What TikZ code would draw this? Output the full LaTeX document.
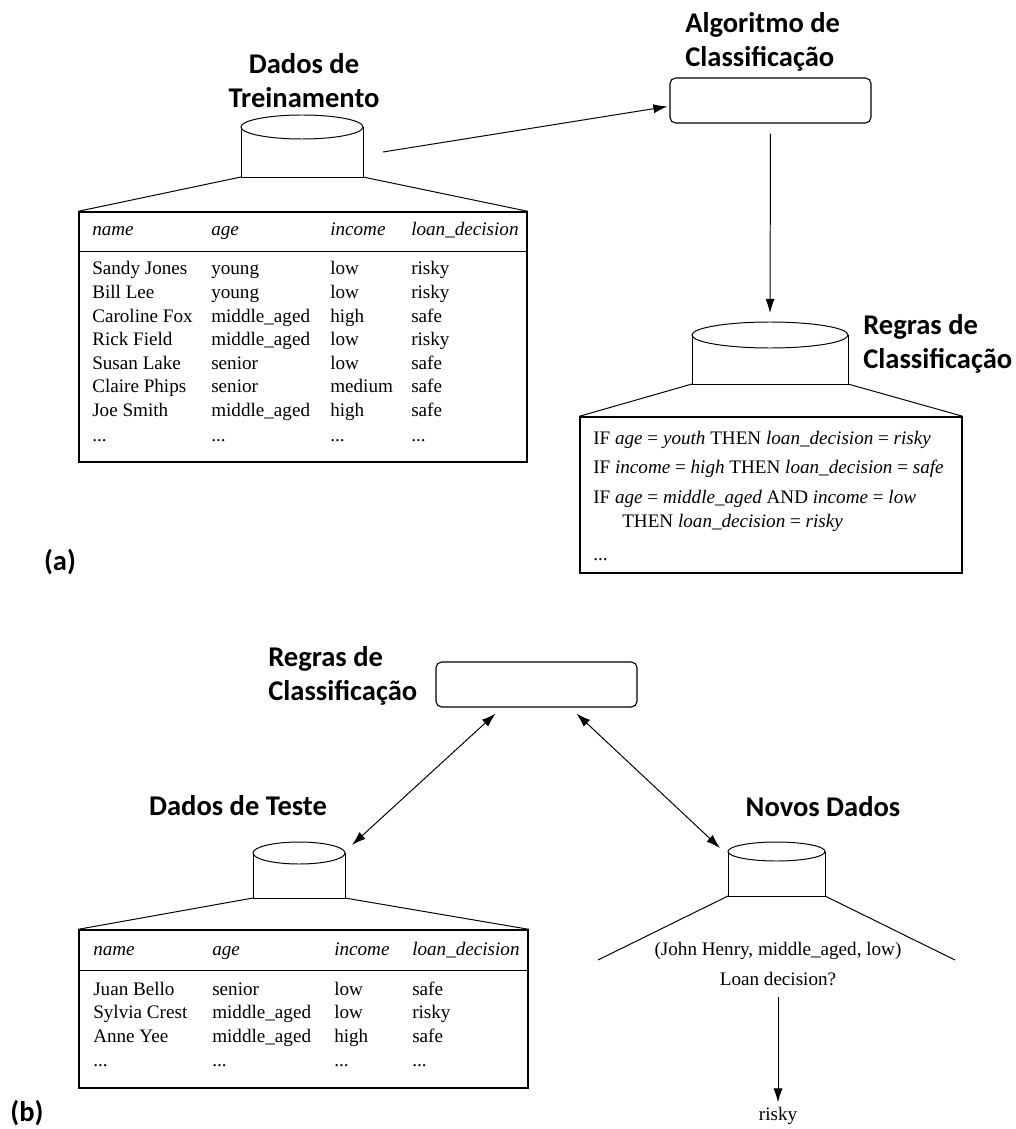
\documentclass[tikz,border=0pt]{standalone}
\usepackage{fontspec}
\setmainfont{Liberation Serif}
\newfontfamily\titulofont{Carlito}
\usetikzlibrary{arrows.meta, positioning, calc}

\newcommand{\pxu}{0.025cm}
% cylinder drawn around an empty node: #1 name, #2 x radius, #3 y radius
\newcommand{\banco}[3]{%
    \draw[linha] ($(#1.north west)+(0,#3)$) -- (#1.south west) -- (#1.south east) -- ($(#1.north east)+(0,#3)$);
    \draw[linha] ($(#1.north)+(0,#3)$) ellipse [x radius=#2, y radius=#3];
}

\begin{document}
\begin{tikzpicture}[
    x=0.025cm, y=-0.025cm,
    linha/.style={line width=0.7pt},
    banco/.style={inner sep=0pt, outer sep=0pt},
    tabela/.style={
        draw,
        line width=1pt,
        inner sep=0pt
    },
    caixa/.style={
        draw,
        rounded corners=4pt,
        line width=0.8pt,
        minimum width=201*\pxu,
        minimum height=45*\pxu
    },
    seta/.style={
        -{Latex[length=10pt, width=6.5pt]},
        line width=0.7pt
    },
    dupla/.style={
        {Latex[length=10pt, width=6.5pt]}-{Latex[length=10pt, width=6.5pt]},
        line width=0.7pt
    },
    titulo/.style={
        font=\titulofont\bfseries\fontsize{20.3}{24.3}\selectfont,
        inner sep=0pt
    },
    celula/.style={
        font=\fontsize{13.6}{16.7}\selectfont,
        anchor=base west,
        inner sep=0pt
    },
    cabec/.style={
        celula,
        font=\fontsize{13.6}{16.7}\selectfont\itshape
    }
]
\useasboundingbox (0,0) rectangle (1016,1129);

% (a) Training
\node[titulo, align=center] (ttreino) at (304, 81) {Dados de\\Treinamento};
\node[banco, minimum width=122*\pxu, minimum height=62*\pxu] (treino) at (302, 146) {};
\banco{treino}{61}{12}

\node[tabela, minimum width=448*\pxu, minimum height=250*\pxu] (tab1) at (303, 337) {};
\draw[linha] (treino.south west) -- (tab1.north west);
\draw[linha] (treino.south east) -- (tab1.north east);
\draw[line width=1pt] ($(tab1.north west)+(0,40)$) -- ($(tab1.north east)+(0,40)$);

\node[cabec] (h1n) at (92, 236) {name};
\node[cabec] (h1a) at (211, 236) {age};
\node[cabec] (h1i) at (330, 236) {income};
\node[cabec] (h1d) at (411, 236) {loan\_decision};

\foreach \nome/\idade/\renda/\decisao [count=\i] in {
    Sandy Jones/young/low/risky,
    Bill Lee/young/low/risky,
    Caroline Fox/middle\_aged/high/safe,
    Rick Field/middle\_aged/low/risky,
    Susan Lake/senior/low/safe,
    Claire Phips/senior/medium/safe,
    Joe Smith/middle\_aged/high/safe} {
    \node[celula] (r\i n) at (92, {275+23.5*(\i-1)}) {\nome};
    \node[celula] (r\i a) at (211, {275+23.5*(\i-1)}) {\idade};
    \node[celula] (r\i i) at (330, {275+23.5*(\i-1)}) {\renda};
    \node[celula] (r\i d) at (411, {275+23.5*(\i-1)}) {\decisao};
}
\node[celula] (r8n) at (92, 441) {...};
\node[celula] (r8a) at (211, 441) {...};
\node[celula] (r8i) at (330, 441) {...};
\node[celula] (r8d) at (411, 441) {...};

\node[titulo, anchor=west, align=left] (talgo) at (685, 42) {Algoritmo de\\Classificação};
\node[caixa] (algo) at (770.5, 100.5) {};
\draw[seta] ($(treino.east)+(20,6)$) -- ($(algo.west)+(-2,6)$);

\node[banco, minimum width=156*\pxu, minimum height=62*\pxu] (regras) at (770, 353) {};
\banco{regras}{78}{13}
\draw[seta, shorten <=10*\pxu, shorten >=9*\pxu] (algo.south) -- (regras.north);
\node[titulo, anchor=west, align=left] (tregras) at (863, 344) {Regras de\\Classificação};

\node[tabela, minimum width=382*\pxu, minimum height=156*\pxu] (tab2) at (771, 495) {};
\draw[linha] (regras.south west) -- (tab2.north west);
\draw[linha] (regras.south east) -- (tab2.north east);

\node[celula] (q1) at (593, 444) {IF \textit{age} = \textit{youth} THEN \textit{loan\_decision} = \textit{risky}};
\node[celula] (q2) at (593, 473) {IF \textit{income} = \textit{high} THEN \textit{loan\_decision} = \textit{safe}};
\node[celula] (q3) at (593, 503) {IF \textit{age} = \textit{middle\_aged} AND \textit{income} = \textit{low}};
\node[celula] (q4) at (622, 527) {THEN \textit{loan\_decision} = \textit{risky}};
\node[celula] (q5) at (593, 560) {...};

\node[titulo] (rotuloa) at (60, 562) {(a)};

% (b) Classification
\node[titulo, anchor=west, align=left] (tregrasb) at (268, 676) {Regras de\\Classificação};
\node[caixa] (regrasb) at (536.5, 684.5) {};

\node[titulo] (tteste) at (238, 806) {Dados de Teste};
\node[banco, minimum width=92*\pxu, minimum height=56*\pxu] (teste) at (299, 870) {};
\banco{teste}{46}{11}

\node[tabela, minimum width=449*\pxu, minimum height=158*\pxu] (tab3) at (303.5, 1009) {};
\draw[linha] (teste.south west) -- (tab3.north west);
\draw[linha] (teste.south east) -- (tab3.north east);
\draw[line width=1pt] ($(tab3.north west)+(0,41)$) -- ($(tab3.north east)+(0,41)$);

\node[cabec] (h3n) at (93, 955) {name};
\node[cabec] (h3a) at (212, 955) {age};
\node[cabec] (h3i) at (334, 955) {income};
\node[cabec] (h3d) at (412, 955) {loan\_decision};

\foreach \nome/\idade/\renda/\decisao [count=\i] in {
    Juan Bello/senior/low/safe,
    Sylvia Crest/middle\_aged/low/risky,
    Anne Yee/middle\_aged/high/safe} {
    \node[celula] (s\i n) at (93, {995+23.5*(\i-1)}) {\nome};
    \node[celula] (s\i a) at (212, {995+23.5*(\i-1)}) {\idade};
    \node[celula] (s\i i) at (334, {995+23.5*(\i-1)}) {\renda};
    \node[celula] (s\i d) at (412, {995+23.5*(\i-1)}) {\decisao};
}
\node[celula] (s4n) at (93, 1066) {...};
\node[celula] (s4a) at (212, 1066) {...};
\node[celula] (s4i) at (334, 1066) {...};
\node[celula] (s4d) at (412, 1066) {...};

\node[titulo] (tnovos) at (823, 807) {Novos Dados};
\node[banco, minimum width=97*\pxu, minimum height=54*\pxu] (novos) at (776.5, 869) {};
\banco{novos}{48.5}{9.5}
\coordinate (abre1) at (598, 960);
\coordinate (abre2) at (955, 960);
\draw[linha] (novos.south west) -- (abre1);
\draw[linha] (novos.south east) -- (abre2);

\node[celula, anchor=base] (john) at (778, 955) {(John Henry, middle\_aged, low)};
\node[celula, anchor=base] (pergunta) at (778, 985) {Loan decision?};
\node[celula, anchor=base] (resp) at (778, 1120) {risky};
\draw[seta, shorten <=11*\pxu, shorten >=4*\pxu] (pergunta.south) -- (resp.north);

\draw[dupla] ($(teste.north east)+(7,3)$) -- ($(regrasb.south)+(-41,6)$);
\draw[dupla] ($(regrasb.south)+(40,6)$) -- ($(novos.north west)+(-8,6)$);

\node[titulo] (rotulob) at (27, 1113) {(b)};

\end{tikzpicture}
\end{document}
